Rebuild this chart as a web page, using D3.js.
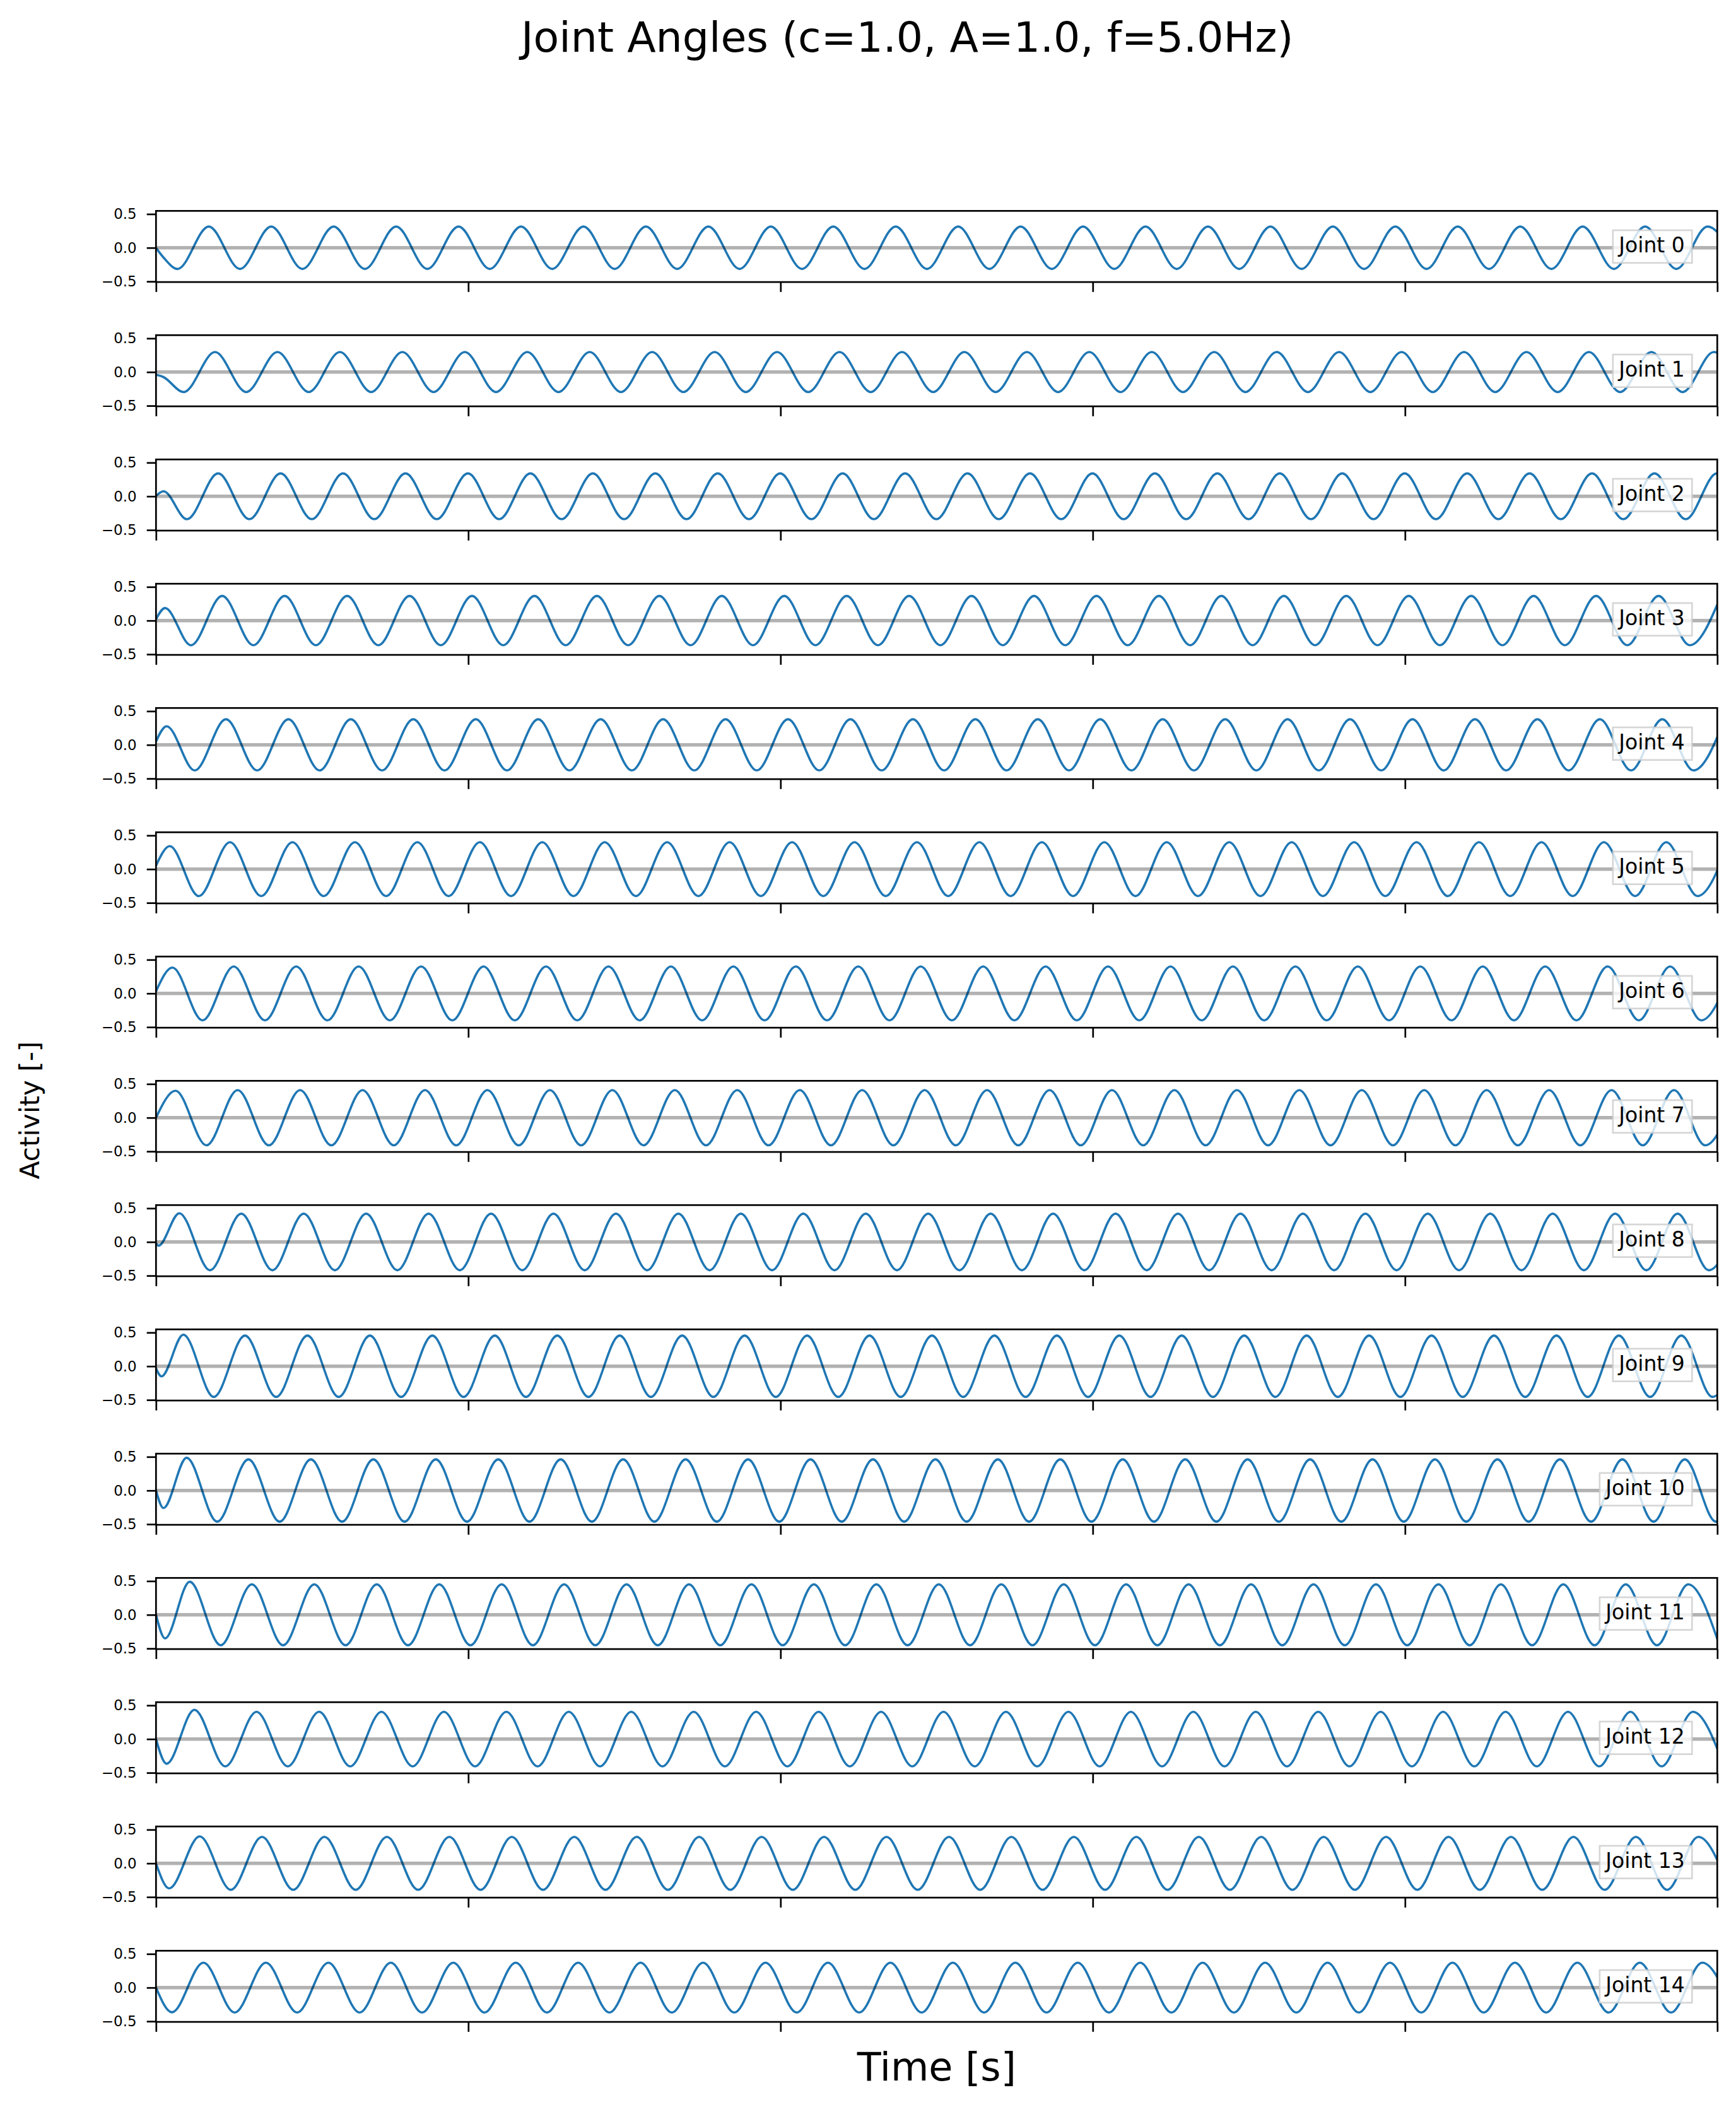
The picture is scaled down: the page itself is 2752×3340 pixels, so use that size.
<!DOCTYPE html>
<html>
<head>
<meta charset="utf-8">
<script src="https://cdn.jsdelivr.net/npm/d3@7"></script>
<style>
  body { margin: 0; background: #ffffff; }
  svg { display: block; font-family: "DejaVu Sans", sans-serif; }
</style>
</head>
<body>
<svg id="chart" width="2752" height="3340"></svg>
<script>
// ---------------- data ----------------
const titleText = "Joint Angles (c=1.0, A=1.0, f=5.0Hz)";
const xLabelText = "Time [s]";
const yLabelText = "Activity [-]";
const freqHz = 5.0;                       // oscillation frequency given in the title
const timeRange = [0, 5];                 // seconds
const timeTicks = [0, 1, 2, 3, 4, 5];     // unlabeled x ticks
const yTicks = [-0.5, 0.0, 0.5];
const yLimits = [-0.509, 0.547];

const jointNames = ["Joint 0", "Joint 1", "Joint 2", "Joint 3", "Joint 4",
  "Joint 5", "Joint 6", "Joint 7", "Joint 8", "Joint 9",
  "Joint 10", "Joint 11", "Joint 12", "Joint 13", "Joint 14"];

// start-up transient of each trace: [time (s), value]
const onsetPoints = [
  [[0, 0.0], [0.025, -0.15]],
  [[0, -0.04], [0.022, -0.07]],
  [[0, 0.005], [0.024, 0.075]],
  [[0, 0.02], [0.029, 0.186]],
  [[0, 0.05], [0.034, 0.276]],
  [[0, 0.05], [0.044, 0.342]],
  [[0, 0.03], [0.0525, 0.384]],
  [[0, 0.0], [0.0626, 0.40]],
  [[0, -0.02], [0.008, -0.055], [0.0747, 0.426]],
  [[0, -0.03], [0.0176, -0.15], [0.0876, 0.468]],
  [[0, 0.0], [0.024, -0.26], [0.098, 0.485]],
  [[0, 0.0], [0.029, -0.35], [0.108, 0.49]],
  [[0, 0.0], [0.034, -0.366], [0.123, 0.434]],
  [[0, 0.0], [0.042, -0.372], [0.14, 0.40]],
  [[0, 0.0], [0.051, -0.366]]
];
// steady oscillation: time of its first extremum, sign of that extremum, amplitude
const steadyStart = [0.069, 0.089, 0.099, 0.112, 0.124, 0.137, 0.149, 0.1615,
  0.173, 0.185, 0.196, 0.207, 0.222, 0.2395, 0.152];
const steadyStartSign = [-1, -1, -1, -1, -1, -1, -1, -1, -1, -1, -1, -1, -1, -1, 1];
const steadyAmplitude = [0.315, 0.297, 0.34, 0.366, 0.38, 0.40, 0.40, 0.41,
  0.42, 0.455, 0.462, 0.452, 0.405, 0.393, 0.37];

// ---------------- layout ----------------
const W = 2752, H = 3340;
const plotLeft = 247.3, plotRight = 2722.3;
const panelTop0 = 334.3, panelStep = 197, panelH = 112.8;
const blue = "#1f77b4";

const svg = d3.select("#chart");
svg.append("rect").attr("width", W).attr("height", H).attr("fill", "#ffffff");

const x = d3.scaleLinear().domain(timeRange).range([plotLeft, plotRight]);
const y = d3.scaleLinear().domain(yLimits).range([panelH, 0]);

const halfPeriod = 1 / (2 * freqHz);
function seriesFor(j) {
  const pts = onsetPoints[j].map(([t, v]) => ({ t, v }));
  let sign = steadyStartSign[j];
  for (let t = steadyStart[j]; t <= timeRange[1] + halfPeriod; t += halfPeriod) {
    pts.push({ t, v: sign * steadyAmplitude[j] });
    sign = -sign;
  }
  return pts;
}

const line = d3.line()
  .x(d => x(d.t))
  .y(d => y(d.v))
  .curve(d3.curveMonotoneX);

const defs = svg.append("defs");
defs.append("clipPath").attr("id", "plotClip")
  .append("rect")
  .attr("x", plotLeft).attr("y", 0)
  .attr("width", plotRight - plotLeft).attr("height", panelH);

jointNames.forEach((name, j) => {
  const g = svg.append("g")
    .attr("transform", `translate(0,${panelTop0 + j * panelStep})`);

  // data line
  g.append("path")
    .datum(seriesFor(j))
    .attr("clip-path", "url(#plotClip)")
    .attr("fill", "none")
    .attr("stroke", blue)
    .attr("stroke-width", 3.6)
    .attr("stroke-linejoin", "round")
    .attr("d", line);

  // zero reference line (drawn over the curve, translucent)
  g.append("line")
    .attr("x1", plotLeft).attr("x2", plotRight)
    .attr("y1", y(0)).attr("y2", y(0))
    .attr("stroke", "#000").attr("stroke-opacity", 0.3)
    .attr("stroke-width", 5.3);

  // y axis
  const yAxis = g.append("g")
    .attr("transform", `translate(${plotLeft},0)`)
    .call(d3.axisLeft(y).tickValues(yTicks).tickFormat(d3.format(".1f"))
      .tickSize(14.6).tickPadding(16));
  yAxis.select(".domain").remove();
  yAxis.selectAll(".tick line").attr("stroke", "#000").attr("stroke-width", 2.7);
  yAxis.selectAll(".tick text")
    .attr("font-family", "DejaVu Sans").attr("font-size", 23).attr("fill", "#000");

  // x axis (ticks only)
  const xAxis = g.append("g")
    .attr("transform", `translate(0,${panelH})`)
    .call(d3.axisBottom(x).tickValues(timeTicks).tickFormat("").tickSize(15.7));
  xAxis.select(".domain").remove();
  xAxis.selectAll(".tick line").attr("stroke", "#000").attr("stroke-width", 2.7);

  // frame
  g.append("rect")
    .attr("x", plotLeft).attr("y", 0)
    .attr("width", plotRight - plotLeft).attr("height", panelH)
    .attr("fill", "none").attr("stroke", "#000").attr("stroke-width", 2.7);

  // legend-like label box
  const lg = g.append("g");
  const box = lg.append("rect");
  const txt = lg.append("text")
    .text(name)
    .attr("font-family", "DejaVu Sans")
    .attr("font-size", 33)
    .attr("fill", "#000")
    .attr("y", 65.7);
  const tw = txt.node().getComputedTextLength();
  const boxRight = plotRight - 40;
  const boxW = tw + 21;
  const boxLeft = boxRight - boxW;
  txt.attr("x", boxLeft + 9.5);
  box.attr("x", boxLeft).attr("y", 30.7)
    .attr("width", boxW).attr("height", 51.7)
    .attr("fill", "#ffffff").attr("fill-opacity", 0.8)
    .attr("stroke", "#cccccc").attr("stroke-opacity", 0.8)
    .attr("stroke-width", 2.7);
});

// title and axis labels
svg.append("text")
  .attr("x", 826).attr("y", 82)
  .attr("font-family", "DejaVu Sans").attr("font-size", 66.5)
  .attr("fill", "#000")
  .text(titleText);

svg.append("text")
  .attr("x", (plotLeft + plotRight) / 2).attr("y", 3298)
  .attr("text-anchor", "middle")
  .attr("font-family", "DejaVu Sans").attr("font-size", 62)
  .attr("fill", "#000")
  .text(xLabelText);

svg.append("text")
  .attr("transform", "translate(61.7,1760) rotate(-90)")
  .attr("text-anchor", "middle")
  .attr("font-family", "DejaVu Sans").attr("font-size", 42)
  .attr("fill", "#000")
  .text(yLabelText);
</script>
</body>
</html>
